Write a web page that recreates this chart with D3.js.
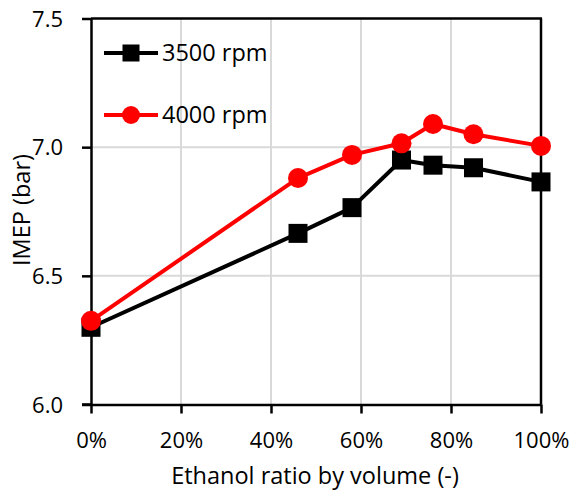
<!DOCTYPE html>
<html>
<head>
<meta charset="utf-8">
<script src="https://cdn.jsdelivr.net/npm/d3@7"></script>
<style>
  html, body { margin: 0; padding: 0; background: #fff; }
  svg text { font-family: "Open Sans", Lato, sans-serif; fill: #000; }
</style>
</head>
<body>
<svg id="chart" width="571" height="490"></svg>
<script>
// Data
const ethanolRatio = [0, 0.46, 0.58, 0.69, 0.76, 0.85, 1.00];
const imep3500 = [6.30, 6.665, 6.765, 6.95, 6.93, 6.92, 6.865];
const imep4000 = [6.325, 6.88, 6.97, 7.015, 7.09, 7.05, 7.005];
const seriesNames = ["3500 rpm", "4000 rpm"];
const seriesColors = ["#000000", "#ff0000"];
const xTicks = [0, 0.2, 0.4, 0.6, 0.8, 1.0];
const yTicks = [6.0, 6.5, 7.0, 7.5];
const xTitle = "Ethanol ratio by volume (-)";
const yTitle = "IMEP (bar)";

(function () {
const svg = d3.select("#chart");
const pL = 91, pR = 541, pT = 18.5, pB = 404.5;

const x = d3.scaleLinear().domain([0, 1]).range([pL, pR]);
const y = d3.scaleLinear().domain([6.0, 7.5]).range([pB, pT]);

// Gridlines
const grid = svg.append("g");
grid.selectAll("line.vg").data(xTicks.filter(d => d > 0 && d < 1)).enter().append("line")
  .attr("x1", d => x(d)).attr("x2", d => x(d))
  .attr("y1", pT).attr("y2", pB)
  .attr("stroke", "#d9d9d9").attr("stroke-width", 2);
grid.selectAll("line.hg").data(yTicks.filter(d => d > 6 && d < 7.5)).enter().append("line")
  .attr("x1", pL).attr("x2", pR)
  .attr("y1", d => y(d)).attr("y2", d => y(d))
  .attr("stroke", "#d9d9d9").attr("stroke-width", 2);

// Border top & right
svg.append("line").attr("x1", pL).attr("x2", pR + 1).attr("y1", pT).attr("y2", pT)
  .attr("stroke", "#000").attr("stroke-width", 2.5);
svg.append("line").attr("x1", pR).attr("x2", pR).attr("y1", pT).attr("y2", pB)
  .attr("stroke", "#000").attr("stroke-width", 2.5);

// Axes
const xAxis = svg.append("g").attr("transform", `translate(0,${pB})`)
  .call(d3.axisBottom(x).tickValues(xTicks).tickFormat(d3.format(".0%")).tickSize(9).tickSizeOuter(0));
const yAxis = svg.append("g").attr("transform", `translate(${pL},0)`)
  .call(d3.axisLeft(y).tickValues(yTicks).tickFormat(d3.format(".1f")).tickSize(9).tickSizeOuter(0));
[xAxis, yAxis].forEach(a => {
  a.select(".domain").attr("stroke", "#000").attr("stroke-width", 2.5);
  a.selectAll(".tick line").attr("stroke", "#000").attr("stroke-width", 2.5);
  a.selectAll(".tick text").attr("font-size", 22).attr("font-family", '"Open Sans", Lato, sans-serif').attr("fill", "#000");
});
xAxis.selectAll(".tick text").attr("dy", 0).attr("y", 43);
yAxis.selectAll(".tick text").attr("x", -28).attr("dy", "0.35em");
svg.append("line").attr("x1", pL - 9).attr("x2", pL).attr("y1", pB).attr("y2", pB)
  .attr("stroke", "#000").attr("stroke-width", 2.5);

// Titles
svg.append("text").attr("x", 315).attr("y", 484).attr("text-anchor", "middle")
  .attr("font-size", 23.5).text(xTitle);
svg.append("text").attr("transform", "translate(30,210) rotate(-90)").attr("text-anchor", "middle")
  .attr("font-size", 23.5).text(yTitle);

// Series
const line = d3.line().x((d, i) => x(ethanolRatio[i])).y(d => y(d));
const allSeries = [imep3500, imep4000];

allSeries.forEach((vals, si) => {
  const g = svg.append("g");
  g.append("path").datum(vals).attr("d", line)
    .attr("fill", "none").attr("stroke", seriesColors[si]).attr("stroke-width", 4)
    .attr("stroke-linejoin", "round");
  if (si === 0) {
    g.selectAll("rect").data(vals).enter().append("rect")
      .attr("x", (d, i) => x(ethanolRatio[i]) - 9.5)
      .attr("y", d => y(d) - 9.5)
      .attr("width", 19).attr("height", 19)
      .attr("fill", seriesColors[si]);
  } else {
    g.selectAll("circle").data(vals).enter().append("circle")
      .attr("cx", (d, i) => x(ethanolRatio[i]))
      .attr("cy", d => y(d))
      .attr("r", 10)
      .attr("fill", seriesColors[si]);
  }
});

// Legend
const legY = [53, 115];
seriesNames.forEach((name, si) => {
  const g = svg.append("g");
  g.append("line").attr("x1", 104).attr("x2", 158).attr("y1", legY[si]).attr("y2", legY[si])
    .attr("stroke", seriesColors[si]).attr("stroke-width", 4);
  if (si === 0) {
    g.append("rect").attr("x", 131 - 8.5).attr("y", legY[si] - 8.5).attr("width", 17).attr("height", 17)
      .attr("fill", seriesColors[si]);
  } else {
    g.append("circle").attr("cx", 131).attr("cy", legY[si]).attr("r", 9)
      .attr("fill", seriesColors[si]);
  }
  g.append("text").attr("x", 162).attr("y", legY[si]).attr("dy", "0.35em")
    .attr("font-size", 23.5).text(name);
});
})();
</script>
</body>
</html>
